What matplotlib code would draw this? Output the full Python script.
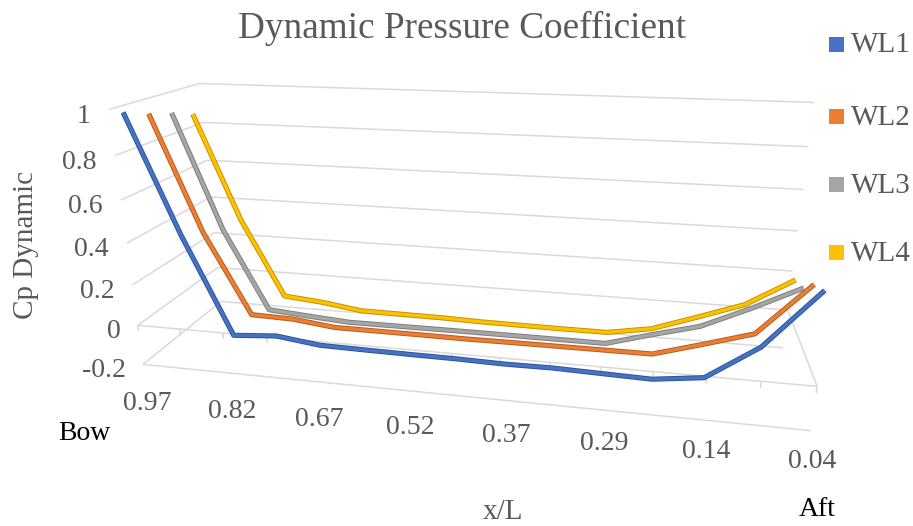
import numpy as np
import matplotlib
matplotlib.use("Agg")
import matplotlib.pyplot as plt
import matplotlib.patheffects as pe
from matplotlib.patches import Rectangle

# ---------------- data ----------------
xl_values = ["0.97", "0.90", "0.82", "0.75", "0.67", "0.60", "0.52", "0.45",
             "0.37", "0.33", "0.29", "0.22", "0.14", "0.09", "0.04"]
shown_every = 2
series_names = ["WL1", "WL2", "WL3", "WL4"]
wl1 = [0.97, 0.42, -0.056, -0.040, -0.067, -0.070, -0.072, -0.073, -0.077,
       -0.075, -0.080, -0.085, -0.056, 0.105, 0.37]
wl2 = [0.93, 0.37, -0.035, -0.040, -0.065, -0.065, -0.065, -0.066, -0.064,
       -0.063, -0.062, -0.061, 0.006, 0.076, 0.32]
wl3 = [0.90, 0.32, -0.091, -0.108, -0.123, -0.122, -0.121, -0.120, -0.120,
       -0.120, -0.120, -0.055, 0.006, 0.112, 0.228]
wl4 = [0.86, 0.315, -0.094, -0.113, -0.143, -0.144, -0.145, -0.150, -0.151,
       -0.152, -0.151, -0.112, -0.032, 0.051, 0.192]
z_ticks = [-0.2, 0, 0.2, 0.4, 0.6, 0.8, 1.0]
z_tick_labels = ["-0.2", "0", "0.2", "0.4", "0.6", "0.8", "1"]

# ---------------- style ----------------
colors = ["#4472C4", "#ED7D31", "#A5A5A5", "#FFC000"]
edges = ["#2F528F", "#AE5A21", "#7B7B7B", "#BF9000"]
grid_c = "#D9D9D9"
txt_c = "#595959"
FONT = ["Liberation Serif", "DejaVu Serif"]

W, H = 913, 526
fig = plt.figure(figsize=(W / 100, H / 100), dpi=100, facecolor="white")
ax = fig.add_axes([0, 0, 1, 1], projection="3d", computed_zorder=False)
ax.set_axis_off()
ax.patch.set_alpha(0)

n = len(xl_values)
xmax = n - 1
ymax = len(series_names)
ax.set_xlim(0, xmax)
ax.set_ylim(0, ymax)
ax.set_zlim(z_ticks[0], z_ticks[-1])
ax.set_box_aspect((0.7544, 0.1985, 0.3052))
ax.view_init(elev=18.3, azim=-78.6)
dist = getattr(ax, "_dist", 10)
xlen = ax._box_aspect[0]
ax.set_proj_type("persp", focal_length=xlen * (0.991 / 0.7544) / dist)

gkw = dict(color=grid_c, lw=1.1, zorder=1, clip_on=False, solid_capstyle="butt")
# back wall and side wall gridlines
for z in z_ticks:
    ax.plot([0, xmax], [ymax, ymax], [z, z], **gkw)
    ax.plot([0, 0], [0, ymax], [z, z], **gkw)
# floor front edge
ax.plot([0, xmax], [0, 0], [z_ticks[0]] * 2, **gkw)
# category axis plane at 0
ax.plot([0, xmax], [0, 0], [0, 0], **gkw)
ax.plot([xmax, xmax], [0, ymax], [0, 0], **gkw)
for i in range(n):
    ax.plot([i, i], [0, 0], [0, -0.03], **gkw)

# series (back to front)
xs = np.arange(n)
data = [wl1, wl2, wl3, wl4]
for k in reversed(range(len(data))):
    ax.plot(xs, [k + 0.5] * n, data[k], color=colors[k], lw=2.4,
            solid_joinstyle="round", solid_capstyle="butt", clip_on=False,
            zorder=5 + (len(data) - k),
            path_effects=[pe.Stroke(linewidth=3.7, foreground=edges[k]), pe.Normal()])

# ---------------- calibrate placement ----------------
ref3d = np.array([[0, 0, 0], [xmax, 0, 0], [0, ymax, 1], [xmax, ymax, 1],
                  [0, 0, 1], [0, ymax, -0.2], [xmax, 0, -0.2], [xmax, ymax, 0]], float)
ref_px = np.array([[140, 330], [818, 383], [198, 85], [813, 100],
                   [105, 112], [223, 305], [813, 427], [787, 307]], float)
fig.canvas.draw()
M = ax.get_proj()


def to_disp(pts):
    pts = np.asarray(pts, float)
    hom = np.column_stack([pts, np.ones(len(pts))]) @ M.T
    return ax.transData.transform(hom[:, :2] / hom[:, 3:4])


disp = to_disp(ref3d)
tgt = np.column_stack([ref_px[:, 0], H - ref_px[:, 1]])
pm, qm = disp.mean(0), tgt.mean(0)
s = ((disp - pm) * (tgt - qm)).sum() / ((disp - pm) ** 2).sum()
t = qm - s * pm

# value-axis label anchors, projected with the same camera
val_anchor = s * to_disp([[-0.42, 0, z] for z in z_ticks]) + t

bb = ax.get_position()
x0, y0, w, h = bb.x0 * W, bb.y0 * H, bb.width * W, bb.height * H
ax.set_position([(s * x0 + t[0]) / W, (s * y0 + t[1]) / H, s * w / W, s * h / H])

for (dx, dy), lab in zip(val_anchor, z_tick_labels):
    fig.text(dx / W, (dy - 8) / H, lab, ha="right", va="center",
             fontsize=20, family=FONT, color=txt_c)


# ---------------- texts ----------------
def px(x, y):
    return x / W, 1 - y / H


# category labels, placed along the slanted front edge (pixel positions)
cat_label_px = [(147, 404), (232, 412), (319, 419), (410, 427),
                (506, 435), (604, 443), (706, 452), (812, 461)]
for (lx, ly), i in zip(cat_label_px, range(0, n, shown_every)):
    fig.text(*px(lx, ly), xl_values[i], ha="center", va="center",
             fontsize=20, family=FONT, color=txt_c)

fig.text(*px(462, 28), "Dynamic Pressure Coefficient", ha="center", va="center",
         fontsize=26.8, family=FONT, color=txt_c)
fig.text(*px(26, 245), "Cp Dynamic", ha="center", va="center", rotation=90,
         fontsize=21, family=FONT, color=txt_c)
fig.text(*px(503, 512), "x/L", ha="center", va="center",
         fontsize=21, family=FONT, color=txt_c)
fig.text(*px(84, 434), "Bow", ha="center", va="center",
         fontsize=20, family=FONT, color="black")
fig.text(*px(817, 510), "Aft", ha="center", va="center",
         fontsize=20, family=FONT, color="black")

leg_y = [44, 117, 185, 253]
for k, name in enumerate(series_names):
    yc = leg_y[k]
    fig.add_artist(Rectangle((829 / W, 1 - (yc + 7.5) / H), 15 / W, 15 / H,
                             transform=fig.transFigure, color=colors[k], lw=0))
    fig.text(*px(851, yc + 1), name, ha="left", va="center",
             fontsize=21, family=FONT, color=txt_c)

fig.savefig("out.png", dpi=100, facecolor="white")
